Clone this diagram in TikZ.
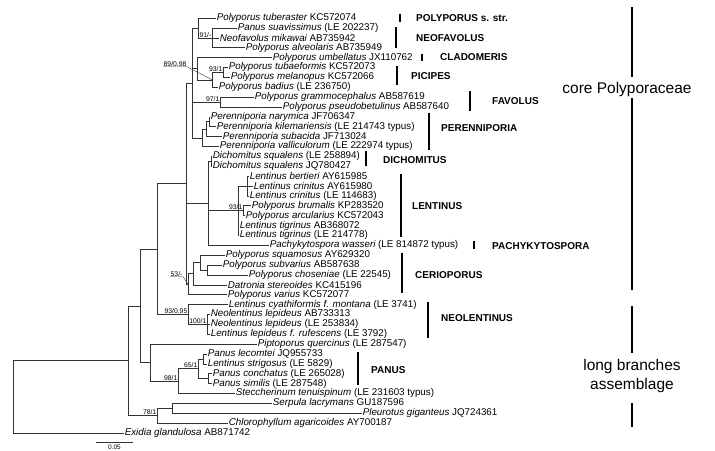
\documentclass[tikz,border=0pt]{standalone}
\usepackage{fontspec}
\setmainfont{Liberation Sans}
\usetikzlibrary{positioning, calc}

\newcommand{\taxon}[2]{{\itshape #1} #2}

\tikzset{
  br/.style={draw=black!80, line width=0.6pt},
  leaf/.style={anchor=west, inner sep=0.6pt, font=\fontsize{9.8}{10}\selectfont},
  supp/.style={anchor=south east, inner sep=0.5pt, font=\fontsize{6.8}{7}\selectfont},
  grp/.style={anchor=west, inner sep=0pt, font=\fontsize{10}{11}\selectfont\bfseries},
  grpbar/.style={draw=black, line width=1.3pt},
  bigbar/.style={draw=black, line width=1.8pt},
  big/.style={inner sep=0pt, font=\fontsize{15.5}{19}\selectfont}
}

\begin{document}
\begin{tikzpicture}[x=1pt, y=-1pt]
\useasboundingbox (0,0) rectangle (715,450);

% leaves
\node[leaf] (tuberaster) at (216,18.0)  {\taxon{Polyporus tuberaster}{KC572074}};
\node[leaf] (suavissimus) at (237,27.9) {\taxon{Panus suavissimus}{(LE 202237)}};
\node[leaf] (mikawai) at (219,37.8)     {\taxon{Neofavolus mikawai}{AB735942}};
\node[leaf] (alveolaris) at (245,47.6)  {\taxon{Polyporus alveolaris}{AB735949}};
\node[leaf] (umbellatus) at (272,57.5)  {\taxon{Polyporus umbellatus}{JX110762}};
\node[leaf] (tubaeformis) at (228,67.4) {\taxon{Polyporus tubaeformis}{KC572073}};
\node[leaf] (melanopus) at (230,77.3)   {\taxon{Polyporus melanopus}{KC572066}};
\node[leaf] (badius) at (218,87.2)      {\taxon{Polyporus badius}{(LE 236750)}};
\node[leaf] (grammo) at (254,97.0)      {\taxon{Polyporus grammocephalus}{AB587619}};
\node[leaf] (pseudobet) at (282,106.9)  {\taxon{Polyporus pseudobetulinus}{AB587640}};
\node[leaf] (narymica) at (210,116.8)   {\taxon{Perenniporia narymica}{JF706347}};
\node[leaf] (kilemar) at (216,126.7)    {\taxon{Perenniporia kilemariensis}{(LE 214743 typus)}};
\node[leaf] (subacida) at (222,136.6)   {\taxon{Perenniporia subacida}{JF713024}};
\node[leaf] (vallicul) at (219,146.4)   {\taxon{Perenniporia valliculorum}{(LE 222974 typus)}};
\node[leaf] (dichLE) at (212,156.3)     {\taxon{Dichomitus squalens}{(LE 258894)}};
\node[leaf] (dichJQ) at (212,166.2)     {\taxon{Dichomitus squalens}{JQ780427}};
\node[leaf] (bertieri) at (249,176.1)   {\taxon{Lentinus bertieri}{AY615985}};
\node[leaf] (crinAY) at (253,186.0)     {\taxon{Lentinus crinitus}{AY615980}};
\node[leaf] (crinLE) at (249,195.8)     {\taxon{Lentinus crinitus}{(LE 114683)}};
\node[leaf] (brumalis) at (251,205.7)   {\taxon{Polyporus brumalis}{KP283520}};
\node[leaf] (arcular) at (245,215.6)    {\taxon{Polyporus arcularius}{KC572043}};
\node[leaf] (tigrAB) at (239,225.5)     {\taxon{Lentinus tigrinus}{AB368072}};
\node[leaf] (tigrLE) at (239,235.4)     {\taxon{Lentinus tigrinus}{(LE 214778)}};
\node[leaf] (pachy) at (269,245.2)      {\taxon{Pachykytospora wasseri}{(LE 814872 typus)}};
\node[leaf] (squamosus) at (225,255.1)  {\taxon{Polyporus squamosus}{AY629320}};
\node[leaf] (subvarius) at (222,265.0)  {\taxon{Polyporus subvarius}{AB587638}};
\node[leaf] (choseniae) at (248,274.9)  {\taxon{Polyporus choseniae}{(LE 22545)}};
\node[leaf] (datronia) at (227,284.8)   {\taxon{Datronia stereoides}{KC415196}};
\node[leaf] (varius) at (227,294.6)     {\taxon{Polyporus varius}{KC572077}};
\node[leaf] (cyathi) at (228,304.5)     {\taxon{Lentinus cyathiformis f. montana}{(LE 3741)}};
\node[leaf] (neolAB) at (210,314.4)     {\taxon{Neolentinus lepideus}{AB733313}};
\node[leaf] (neolLE) at (210,324.3)     {\taxon{Neolentinus lepideus}{(LE 253834)}};
\node[leaf] (rufescens) at (210,334.2)  {\taxon{Lentinus lepideus f. rufescens}{(LE 3792)}};
\node[leaf] (piptoporus) at (257,344.0) {\taxon{Piptoporus quercinus}{(LE 287547)}};
\node[leaf] (lecomtei) at (207,353.9)   {\taxon{Panus lecomtei}{JQ955733}};
\node[leaf] (strigosus) at (207,363.8)  {\taxon{Lentinus strigosus}{(LE 5829)}};
\node[leaf] (conchatus) at (212,373.7)  {\taxon{Panus conchatus}{(LE 265028)}};
\node[leaf] (similis) at (212,383.6)    {\taxon{Panus similis}{(LE 287548)}};
\node[leaf] (steccher) at (235,393.4)   {\taxon{Steccherinum tenuispinum}{(LE 231603 typus)}};
\node[leaf] (serpula) at (272,403.3)    {\taxon{Serpula lacrymans}{GU187596}};
\node[leaf] (pleurotus) at (362,413.2)  {\taxon{Pleurotus giganteus}{JQ724361}};
\node[leaf] (chloro) at (228,423.1)     {\taxon{Chlorophyllum agaricoides}{AY700187}};
\node[leaf] (exidia) at (124,433.0)     {\taxon{Exidia glandulosa}{AB871742}};

% internal nodes
\coordinate (root) at (13,396.9);
\coordinate (nA) at (128,360.7);
\coordinate (nB) at (140,305.8);
\coordinate (nC) at (157,249.0);
\coordinate (core) at (186,183.5);
\coordinate (upper) at (192,82.9);
\coordinate (polyneo) at (198,27.9);
\coordinate (neo) at (212,37.8);
\coordinate (umb) at (197,68.7);
\coordinate (picip) at (212,79.8);
\coordinate (pic1) at (223,72.4);
\coordinate (fav) at (220,102.0);
\coordinate (peren) at (202,137.8);
\coordinate (per1) at (206,129.2);
\coordinate (per2) at (209,121.75);
\coordinate (rgrp) at (208,203.2);
\coordinate (dich) at (211,161.25);
\coordinate (lent) at (238,210.7);
\coordinate (len1) at (247,186.0);
\coordinate (len2) at (243,210.65);
\coordinate (cerio) at (188,284.2);
\coordinate (ce1) at (193,273.7);
\coordinate (ce2) at (200,262.5);
\coordinate (ce3) at (207,270.0);
\coordinate (neol) at (188,314.4);
\coordinate (lep) at (207,324.3);
\coordinate (nD) at (150,362.5);
\coordinate (pan98) at (178,381.1);
\coordinate (panus) at (198,368.7);
\coordinate (pn1) at (203,358.85);
\coordinate (pn2) at (208,378.65);
\coordinate (n78) at (157,415.7);
\coordinate (sp) at (172,408.25);

% branches
\foreach \p/\c in {root/nA, nA/nB, nA/n78, nB/nC, nB/nD, nC/core, nC/neol,
    core/upper, core/rgrp, core/cerio, upper/polyneo, upper/umb, upper/fav,
    upper/peren, polyneo/neo, umb/picip, picip/pic1, peren/per1, per1/per2,
    rgrp/dich, rgrp/lent, lent/len1, lent/len2, cerio/ce1, ce1/ce2, ce2/ce3,
    neol/lep, nD/pan98, pan98/panus, panus/pn1, panus/pn2, n78/sp}
  \draw[br] (\p) |- (\c);
\foreach \p/\c in {root/exidia, polyneo/tuberaster, neo/suavissimus, neo/mikawai,
    neo/alveolaris, umb/umbellatus, pic1/tubaeformis, pic1/melanopus,
    picip/badius, fav/grammo, fav/pseudobet, per2/narymica, per2/kilemar,
    per1/subacida, peren/vallicul, dich/dichLE, dich/dichJQ, len1/bertieri,
    len1/crinAY, len1/crinLE, len2/brumalis, len2/arcular, lent/tigrAB,
    lent/tigrLE, rgrp/pachy, ce2/squamosus, ce3/subvarius, ce3/choseniae,
    ce1/datronia, cerio/varius, neol/cyathi, lep/neolAB, lep/neolLE,
    lep/rufescens, nD/piptoporus, pn1/lecomtei, pn1/strigosus, pn2/conchatus,
    pn2/similis, pan98/steccher, sp/serpula, sp/pleurotus, n78/chloro}
  \draw[br] (\p) |- (\c.west);

% support values
\node[supp] at (neo) {91/-};
\node[supp] at (pic1) {93/1};
\node[supp] at (fav) {97/1};
\node[supp] at (len2) {93/1};
\node[supp] at (neol) {93/0.95};
\node[supp] at (lep) {100/1};
\node[supp] at (panus) {65/1};
\node[supp] at (pan98) {98/1};
\node[supp] at (n78) {78/1};
\node[supp, anchor=base west] (s89) at (163,66) {89/0.98};
\draw[br, line width=0.4pt] (s89.south west) -- (s89.south east) -- (picip);
\node[supp, anchor=base west] (s53) at (170,276) {53/-};
\draw[br, line width=0.4pt] (s53.south west) -- (s53.south east) -- (cerio);

% clade labels
\draw[grpbar] (400,14) -- (400,22);   \node[grp] at (416,18) {POLYPORUS s. str.};
\draw[grpbar] (396,27) -- (396,48);   \node[grp] at (416,38) {NEOFAVOLUS};
\draw[grpbar] (422,54) -- (422,61);   \node[grp] at (440,57.5) {CLADOMERIS};
\draw[grpbar] (397,66) -- (397,85);   \node[grp] at (411,76) {PICIPES};
\draw[grpbar] (470,91) -- (470,111);  \node[grp] at (492,101) {FAVOLUS};
\draw[grpbar] (429,113) -- (429,150); \node[grp] at (441,128) {PERENNIPORIA};
\draw[grpbar] (366,151) -- (366,166); \node[grp] at (383,160) {DICHOMITUS};
\draw[grpbar] (401,174) -- (401,237); \node[grp] at (412,206) {LENTINUS};
\draw[grpbar] (474,241) -- (474,249); \node[grp] at (492,246) {PACHYKYTOSPORA};
\draw[grpbar] (402,253) -- (402,293); \node[grp] at (415,275) {CERIOPORUS};
\draw[grpbar] (428,302) -- (428,338); \node[grp] at (441,318) {NEOLENTINUS};
\draw[grpbar] (358,352) -- (358,385); \node[grp] at (371,370) {PANUS};

% major groups
\draw[bigbar] (632,7) -- (632,77);
\node[big] (core lbl) at (627,89) {core Polyporaceae};
\draw[bigbar] (632,98) -- (632,290);
\draw[bigbar] (632,306) -- (632,353);
\node[big, align=center] (long lbl) at (632,375.5) {long branches\\assemblage};
\draw[bigbar] (632,403) -- (632,427);

% scale
\draw[br] (96,442) -- (133,442);
\node[anchor=base, inner sep=0pt, font=\fontsize{6.5}{7}\selectfont] (scale lbl) at (114.5,449.6) {0.05};
\end{tikzpicture}
\end{document}
